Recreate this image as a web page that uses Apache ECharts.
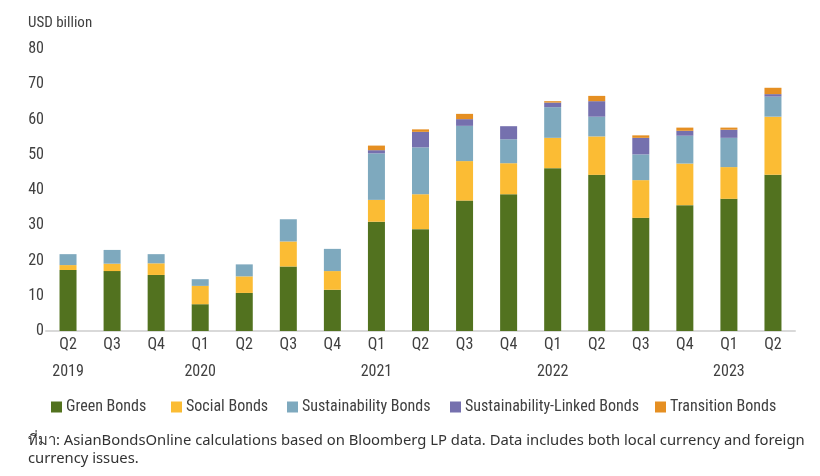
<!DOCTYPE html>
<html>
<head>
<meta charset="utf-8">
<script src="https://cdn.jsdelivr.net/npm/echarts@6/dist/echarts.min.js"></script>
<style>html,body{margin:0;padding:0;background:#fff}#c{width:820px;height:476px}</style>
</head>
<body>
<div id="c"></div>
<script>
var quarters = ['Q2','Q3','Q4','Q1','Q2','Q3','Q4','Q1','Q2','Q3','Q4','Q1','Q2','Q3','Q4','Q1','Q2'];
var years = ['2019','','','2020','','','','2021','','','','2022','','','','2023',''];
var seriesNames = ['Green Bonds','Social Bonds','Sustainability Bonds','Sustainability-Linked Bonds','Transition Bonds'];
var greenBonds = [17.3,17.0,15.9,7.6,10.8,18.3,11.7,31.0,28.9,37.0,38.8,46.2,44.3,32.1,35.7,37.5,44.3];
var socialBonds = [1.4,2.1,3.3,5.2,4.7,7.1,5.3,6.2,9.9,11.2,8.8,8.6,10.9,10.7,11.8,9.0,16.5];
var sustainabilityBonds = [3.1,3.9,2.6,1.9,3.4,6.3,6.3,13.2,13.3,10.0,6.8,8.7,5.6,7.3,7.9,8.3,5.7];
var sustainabilityLinked = [0,0,0,0,0,0,0,0.9,4.4,1.9,3.7,1.3,4.4,4.7,1.4,2.3,0.7];
var transitionBonds = [0,0,0,0,0,0,0,1.3,0.7,1.5,0,0.4,1.5,0.7,0.9,0.6,1.8];
var yTicks = [0,10,20,30,40,50,60,70,80];
var colors = ['#52721f','#fbbc34','#7ea9be','#7570ae','#e58f22'];

var font = '"Roboto Condensed", "Liberation Sans", sans-serif';
var textColor = '#404040';
var chart = echarts.init(document.getElementById('c'), null, {renderer:'canvas'});
var dataSets = [greenBonds, socialBonds, sustainabilityBonds, sustainabilityLinked, transitionBonds];
var legendLefts = [51, 171, 287, 450, 655];
chart.setOption({
  animation: false,
  color: colors,
  grid: {left: 46, right: 25, top: 49, bottom: 145, containLabel: false},
  legend: seriesNames.map(function(n, i){
    return {
      left: legendLefts[i], top: 399, padding: 0,
      itemWidth: 11, itemHeight: 11, itemGap: 0,
      icon: 'rect', selectedMode: false,
      textStyle: {fontFamily: font, fontSize: 16, color: textColor, padding: [0,0,0,-1]},
      data: [n]
    };
  }),
  xAxis: [{
    type: 'category', data: quarters, position: 'bottom',
    axisLine: {show: true, lineStyle: {color: '#d9d9d9', width: 2}},
    axisTick: {show: false},
    axisLabel: {interval: 0, fontFamily: font, fontSize: 16, color: textColor, margin: 6}
  },{
    type: 'category', data: years, position: 'bottom', offset: 27,
    axisLine: {show: false}, axisTick: {show: false},
    axisLabel: {interval: 0, fontFamily: font, fontSize: 16, color: textColor, margin: 6}
  }],
  yAxis: {
    type: 'value', min: yTicks[0], max: yTicks[yTicks.length-1], interval: 10,
    splitLine: {show: false}, axisLine: {show: false}, axisTick: {show: false},
    axisLabel: {fontFamily: font, fontSize: 16, color: textColor, margin: 2}
  },
  graphic: [{
    type: 'text', left: 28, top: 16,
    style: {text: 'USD billion', fontFamily: font, fontSize: 15, fill: textColor}
  },{
    type: 'text', left: 28, top: 432,
    style: {
      text: 'ที่มา: AsianBondsOnline calculations based on Bloomberg LP data. Data includes both local currency and foreign\ncurrency issues.',
      fontFamily: '"Noto Sans", sans-serif', fontSize: 14.8, lineHeight: 18, fill: '#333'
    }
  }],
  series: seriesNames.map(function(n, i){
    return {
      name: n, type: 'bar', stack: 'total', barWidth: 17,
      data: dataSets[i],
      itemStyle: {color: colors[i]}
    };
  })
});
</script>
</body>
</html>
